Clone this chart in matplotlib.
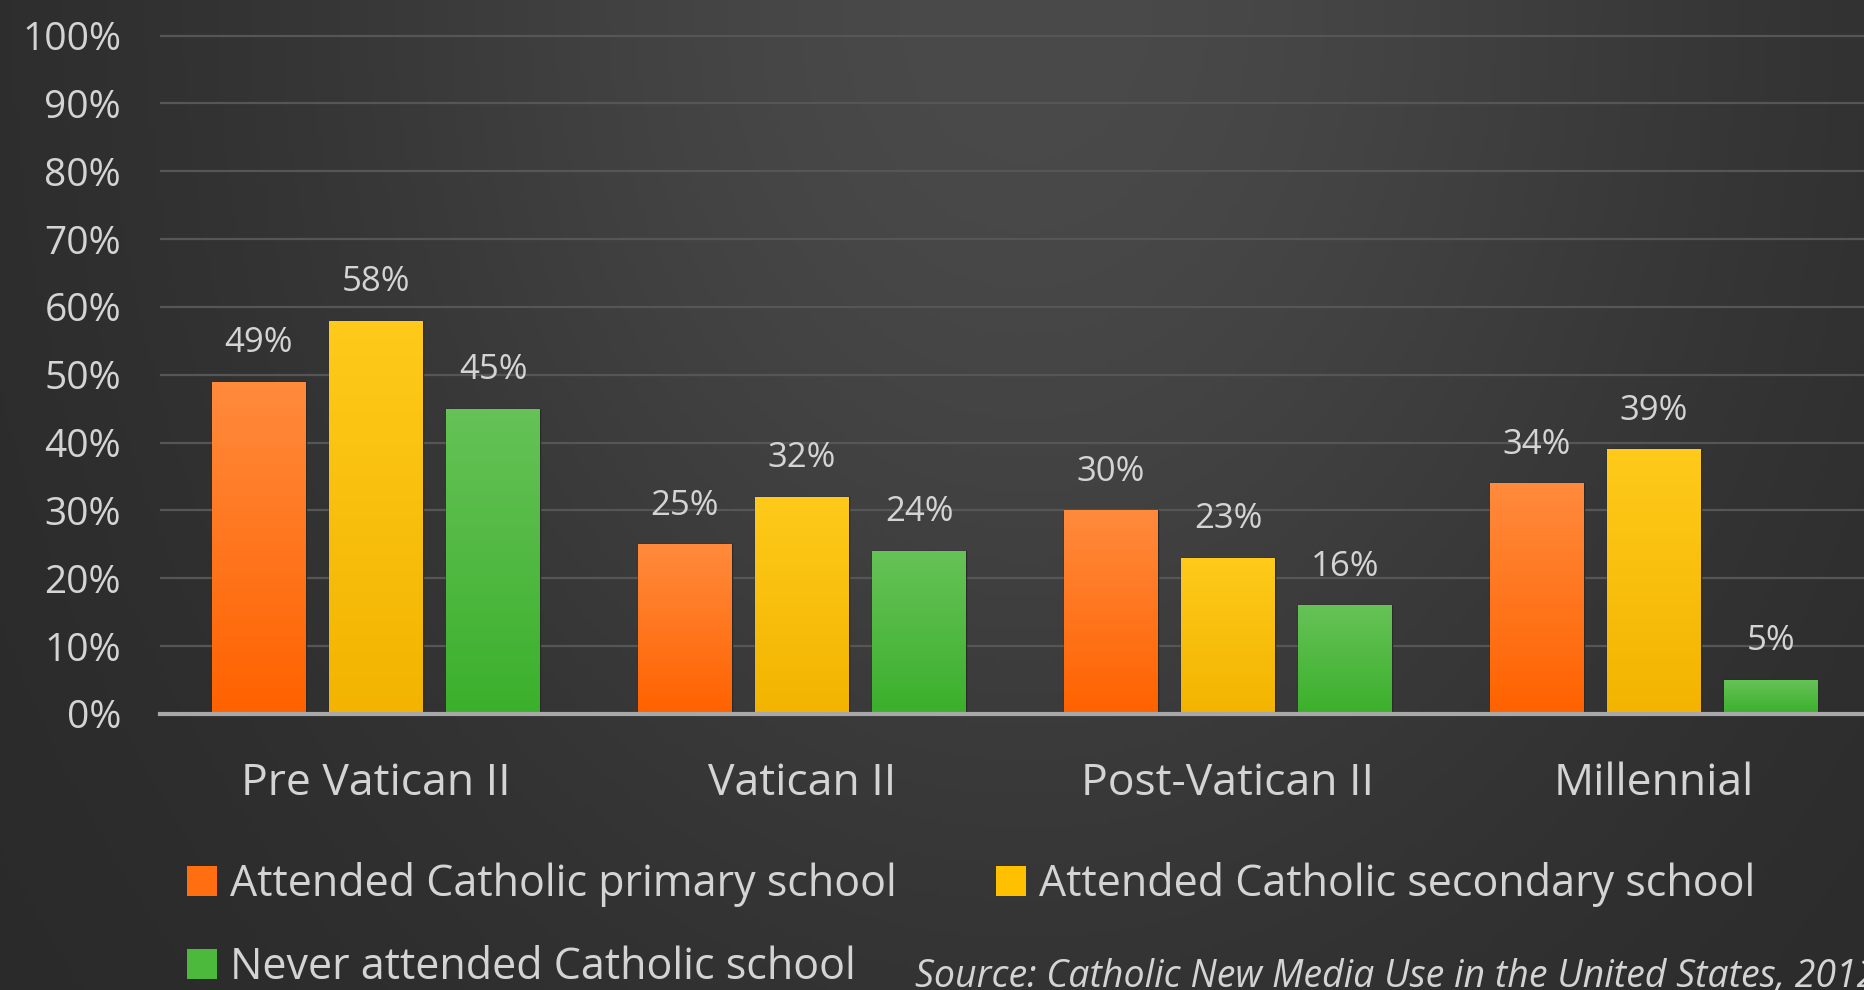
"""Catholic school attendance by generation - grouped bars on dark background."""

import matplotlib

matplotlib.use("Agg")
import matplotlib.pyplot as plt
import numpy as np
from matplotlib.colors import LinearSegmentedColormap
from matplotlib.patches import Patch

plt.rcParams["font.family"] = ["Open Sans", "DejaVu Sans"]

generations = ["Pre Vatican II", "Vatican II", "Post-Vatican II", "Millennial"]
series_names = [
    "Attended Catholic primary school",
    "Attended Catholic secondary school",
    "Never attended Catholic school",
]
primary = [49, 25, 30, 34]
secondary = [58, 32, 23, 39]
never = [45, 24, 16, 5]
y_ticks = [0, 10, 20, 30, 40, 50, 60, 70, 80, 90, 100]
source_note = "Source: Catholic New Media Use in the United States, 2012"

# top colour, bottom colour for each series
gradients = [("#ff8a3c", "#ff6200"), ("#ffca1a", "#f2b400"), ("#66c257", "#3bb02c")]
solid = ["#ff6f12", "#ffc000", "#4cb83c"]
text_color = "#d4d4d4"

W, H, DPI = 1864, 990, 100
fig = plt.figure(figsize=(W / DPI, H / DPI), dpi=DPI)

# background: dark grey, lighter towards the top centre
bg = fig.add_axes([0, 0, 1, 1], zorder=-10)
gx, gy = np.meshgrid(np.linspace(0, 1, 400), np.linspace(0, 1, 220))
shade = 0.16 + 0.13 * np.exp(-((gx - 0.55) ** 2) / 0.16 - ((gy - 1.0) ** 2) / 0.9)
bg.imshow(np.dstack([shade, shade, shade]), extent=[0, 1, 0, 1], origin="lower", aspect="auto")
bg.set_axis_off()

ax_bottom = (H - 714) / H
ax_top = (H - 22) / H
ax = fig.add_axes([160 / W, ax_bottom, 1 - 160 / W, ax_top - ax_bottom])
ax.patch.set_alpha(0)

x = np.arange(len(generations))
step = 0.275
width = 0.22
values = [primary, secondary, never]
for i, (vals, (c_top, c_bot)) in enumerate(zip(values, gradients)):
    bars = ax.bar(x + (i - 1) * step, vals, width, color=solid[i],
                  edgecolor="#2a2a2a", linewidth=1.0, zorder=3)
    cmap = LinearSegmentedColormap.from_list(f"g{i}", [c_bot, c_top])
    grad = np.linspace(0, 1, 64).reshape(-1, 1)
    for rect, v in zip(bars, vals):
        x0 = rect.get_x()
        im = ax.imshow(grad, cmap=cmap, origin="lower", aspect="auto",
                       extent=[x0, x0 + rect.get_width(), 0, rect.get_height()], zorder=3.5)
        im.set_clip_path(rect)
        ax.text(rect.get_x() + rect.get_width() / 2, v + 3.2, f"{v}%",
                ha="center", va="bottom", fontsize=25, color=text_color, zorder=4)

ax.set_xlim(-0.507, 3.493)
ax.set_ylim(0, 102)
ax.set_yticks(y_ticks)
ax.set_yticklabels([f"{t}%" for t in y_ticks], fontsize=28, color=text_color)
ax.set_xticks(x)
ax.set_xticklabels(generations, fontsize=32, color=text_color)
ax.tick_params(axis="both", length=0)
ax.tick_params(axis="y", pad=28)
ax.tick_params(axis="x", pad=34)
ax.grid(axis="y", color="#565656", linewidth=1.6, zorder=0)
for side in ["top", "right", "left"]:
    ax.spines[side].set_visible(False)
ax.spines["bottom"].set_color("#a8a8a8")
ax.spines["bottom"].set_linewidth(3)
ax.spines["bottom"].set_zorder(5)

# legend, row-major order: primary, secondary / never
handles = [Patch(facecolor=c) for c in solid]
order = [0, 2, 1]
leg = fig.legend([handles[k] for k in order], [series_names[k] for k in order],
                 ncol=2, loc="upper left", bbox_to_anchor=(170 / W, 1 - 845 / H),
                 frameon=False, fontsize=31, labelcolor=text_color,
                 handlelength=0.7, handleheight=0.7, handletextpad=0.3,
                 columnspacing=2.3, labelspacing=0.9, borderaxespad=0)

fig.text(915 / W, 1 - 996 / H, source_note, fontsize=27, style="italic",
         color=text_color, ha="left", va="bottom")

fig.savefig("out.png", dpi=DPI, facecolor="#2e2e2e")
